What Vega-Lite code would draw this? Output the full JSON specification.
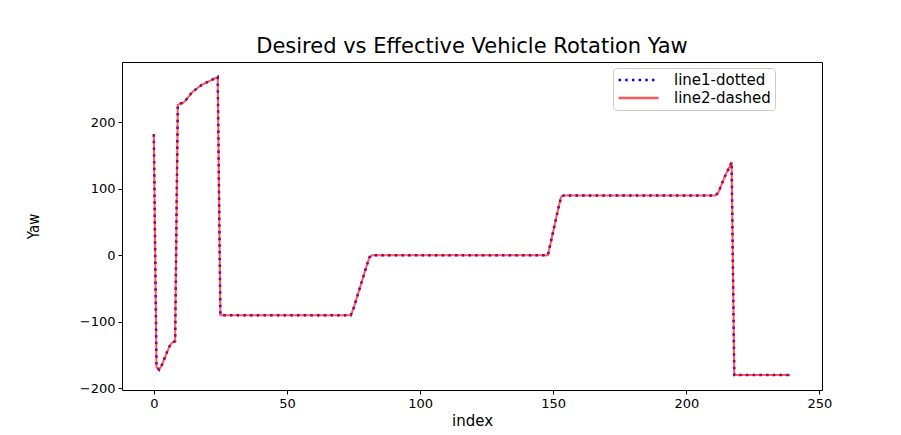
{
  "$schema": "https://vega.github.io/schema/vega-lite/v6.json",
  "width": 700,
  "height": 328,
  "autosize": {"type": "none"},
  "padding": {"left": 122, "top": 62, "right": 79, "bottom": 45},
  "background": "white",
  "title": {"text": "Desired vs Effective Vehicle Rotation Yaw", "font": "DejaVu Sans", "fontSize": 21, "fontWeight": "normal", "color": "black", "offset": 5, "anchor": "middle"},
  "config": {
    "view": {"stroke": "black", "strokeWidth": 1},
    "axis": {"domain": false, "grid": false, "tickColor": "black", "tickSize": 4, "tickWidth": 1, "labelFont": "DejaVu Sans", "labelFontSize": 13, "labelColor": "black", "labelPadding": 3, "titleFont": "DejaVu Sans", "titleFontSize": 13, "titleColor": "black", "titleFontWeight": "normal"}
  },
  "data": {"values": [
    {"index":0,"desired":182,"effective":182},
    {"index":1,"desired":-168,"effective":-168},
    {"index":2,"desired":-172,"effective":-172},
    {"index":3,"desired":-165,"effective":-165},
    {"index":4,"desired":-155,"effective":-155},
    {"index":5,"desired":-145,"effective":-145},
    {"index":6,"desired":-136,"effective":-136},
    {"index":7,"desired":-131,"effective":-131},
    {"index":8,"desired":-129,"effective":-129},
    {"index":9,"desired":226,"effective":226},
    {"index":10,"desired":228,"effective":228},
    {"index":11,"desired":229,"effective":229},
    {"index":12,"desired":233,"effective":233},
    {"index":13,"desired":238,"effective":238},
    {"index":14,"desired":243,"effective":243},
    {"index":15,"desired":247,"effective":247},
    {"index":16,"desired":250,"effective":250},
    {"index":17,"desired":253,"effective":253},
    {"index":18,"desired":256,"effective":256},
    {"index":19,"desired":258,"effective":258},
    {"index":20,"desired":260,"effective":260},
    {"index":21,"desired":262,"effective":262},
    {"index":22,"desired":264,"effective":264},
    {"index":23,"desired":266,"effective":266},
    {"index":24,"desired":268,"effective":268},
    {"index":25,"desired":-90,"effective":-90},
    {"index":26,"desired":-90,"effective":-90},
    {"index":27,"desired":-90,"effective":-90},
    {"index":28,"desired":-90,"effective":-90},
    {"index":29,"desired":-90,"effective":-90},
    {"index":30,"desired":-90,"effective":-90},
    {"index":31,"desired":-90,"effective":-90},
    {"index":32,"desired":-90,"effective":-90},
    {"index":33,"desired":-90,"effective":-90},
    {"index":34,"desired":-90,"effective":-90},
    {"index":35,"desired":-90,"effective":-90},
    {"index":36,"desired":-90,"effective":-90},
    {"index":37,"desired":-90,"effective":-90},
    {"index":38,"desired":-90,"effective":-90},
    {"index":39,"desired":-90,"effective":-90},
    {"index":40,"desired":-90,"effective":-90},
    {"index":41,"desired":-90,"effective":-90},
    {"index":42,"desired":-90,"effective":-90},
    {"index":43,"desired":-90,"effective":-90},
    {"index":44,"desired":-90,"effective":-90},
    {"index":45,"desired":-90,"effective":-90},
    {"index":46,"desired":-90,"effective":-90},
    {"index":47,"desired":-90,"effective":-90},
    {"index":48,"desired":-90,"effective":-90},
    {"index":49,"desired":-90,"effective":-90},
    {"index":50,"desired":-90,"effective":-90},
    {"index":51,"desired":-90,"effective":-90},
    {"index":52,"desired":-90,"effective":-90},
    {"index":53,"desired":-90,"effective":-90},
    {"index":54,"desired":-90,"effective":-90},
    {"index":55,"desired":-90,"effective":-90},
    {"index":56,"desired":-90,"effective":-90},
    {"index":57,"desired":-90,"effective":-90},
    {"index":58,"desired":-90,"effective":-90},
    {"index":59,"desired":-90,"effective":-90},
    {"index":60,"desired":-90,"effective":-90},
    {"index":61,"desired":-90,"effective":-90},
    {"index":62,"desired":-90,"effective":-90},
    {"index":63,"desired":-90,"effective":-90},
    {"index":64,"desired":-90,"effective":-90},
    {"index":65,"desired":-90,"effective":-90},
    {"index":66,"desired":-90,"effective":-90},
    {"index":67,"desired":-90,"effective":-90},
    {"index":68,"desired":-90,"effective":-90},
    {"index":69,"desired":-90,"effective":-90},
    {"index":70,"desired":-90,"effective":-90},
    {"index":71,"desired":-90,"effective":-90},
    {"index":72,"desired":-90,"effective":-90},
    {"index":73,"desired":-90,"effective":-90},
    {"index":74,"desired":-90,"effective":-90},
    {"index":75,"desired":-80,"effective":-80},
    {"index":76,"desired":-67,"effective":-67},
    {"index":77,"desired":-54,"effective":-54},
    {"index":78,"desired":-41,"effective":-41},
    {"index":79,"desired":-28,"effective":-28},
    {"index":80,"desired":-15,"effective":-15},
    {"index":81,"desired":-3,"effective":-3},
    {"index":82,"desired":0,"effective":0},
    {"index":83,"desired":0,"effective":0},
    {"index":84,"desired":0,"effective":0},
    {"index":85,"desired":0,"effective":0},
    {"index":86,"desired":0,"effective":0},
    {"index":87,"desired":0,"effective":0},
    {"index":88,"desired":0,"effective":0},
    {"index":89,"desired":0,"effective":0},
    {"index":90,"desired":0,"effective":0},
    {"index":91,"desired":0,"effective":0},
    {"index":92,"desired":0,"effective":0},
    {"index":93,"desired":0,"effective":0},
    {"index":94,"desired":0,"effective":0},
    {"index":95,"desired":0,"effective":0},
    {"index":96,"desired":0,"effective":0},
    {"index":97,"desired":0,"effective":0},
    {"index":98,"desired":0,"effective":0},
    {"index":99,"desired":0,"effective":0},
    {"index":100,"desired":0,"effective":0},
    {"index":101,"desired":0,"effective":0},
    {"index":102,"desired":0,"effective":0},
    {"index":103,"desired":0,"effective":0},
    {"index":104,"desired":0,"effective":0},
    {"index":105,"desired":0,"effective":0},
    {"index":106,"desired":0,"effective":0},
    {"index":107,"desired":0,"effective":0},
    {"index":108,"desired":0,"effective":0},
    {"index":109,"desired":0,"effective":0},
    {"index":110,"desired":0,"effective":0},
    {"index":111,"desired":0,"effective":0},
    {"index":112,"desired":0,"effective":0},
    {"index":113,"desired":0,"effective":0},
    {"index":114,"desired":0,"effective":0},
    {"index":115,"desired":0,"effective":0},
    {"index":116,"desired":0,"effective":0},
    {"index":117,"desired":0,"effective":0},
    {"index":118,"desired":0,"effective":0},
    {"index":119,"desired":0,"effective":0},
    {"index":120,"desired":0,"effective":0},
    {"index":121,"desired":0,"effective":0},
    {"index":122,"desired":0,"effective":0},
    {"index":123,"desired":0,"effective":0},
    {"index":124,"desired":0,"effective":0},
    {"index":125,"desired":0,"effective":0},
    {"index":126,"desired":0,"effective":0},
    {"index":127,"desired":0,"effective":0},
    {"index":128,"desired":0,"effective":0},
    {"index":129,"desired":0,"effective":0},
    {"index":130,"desired":0,"effective":0},
    {"index":131,"desired":0,"effective":0},
    {"index":132,"desired":0,"effective":0},
    {"index":133,"desired":0,"effective":0},
    {"index":134,"desired":0,"effective":0},
    {"index":135,"desired":0,"effective":0},
    {"index":136,"desired":0,"effective":0},
    {"index":137,"desired":0,"effective":0},
    {"index":138,"desired":0,"effective":0},
    {"index":139,"desired":0,"effective":0},
    {"index":140,"desired":0,"effective":0},
    {"index":141,"desired":0,"effective":0},
    {"index":142,"desired":0,"effective":0},
    {"index":143,"desired":0,"effective":0},
    {"index":144,"desired":0,"effective":0},
    {"index":145,"desired":0,"effective":0},
    {"index":146,"desired":0,"effective":0},
    {"index":147,"desired":0,"effective":0},
    {"index":148,"desired":0,"effective":0},
    {"index":149,"desired":18,"effective":18},
    {"index":150,"desired":36,"effective":36},
    {"index":151,"desired":54,"effective":54},
    {"index":152,"desired":72,"effective":72},
    {"index":153,"desired":88,"effective":88},
    {"index":154,"desired":90,"effective":90},
    {"index":155,"desired":90,"effective":90},
    {"index":156,"desired":90,"effective":90},
    {"index":157,"desired":90,"effective":90},
    {"index":158,"desired":90,"effective":90},
    {"index":159,"desired":90,"effective":90},
    {"index":160,"desired":90,"effective":90},
    {"index":161,"desired":90,"effective":90},
    {"index":162,"desired":90,"effective":90},
    {"index":163,"desired":90,"effective":90},
    {"index":164,"desired":90,"effective":90},
    {"index":165,"desired":90,"effective":90},
    {"index":166,"desired":90,"effective":90},
    {"index":167,"desired":90,"effective":90},
    {"index":168,"desired":90,"effective":90},
    {"index":169,"desired":90,"effective":90},
    {"index":170,"desired":90,"effective":90},
    {"index":171,"desired":90,"effective":90},
    {"index":172,"desired":90,"effective":90},
    {"index":173,"desired":90,"effective":90},
    {"index":174,"desired":90,"effective":90},
    {"index":175,"desired":90,"effective":90},
    {"index":176,"desired":90,"effective":90},
    {"index":177,"desired":90,"effective":90},
    {"index":178,"desired":90,"effective":90},
    {"index":179,"desired":90,"effective":90},
    {"index":180,"desired":90,"effective":90},
    {"index":181,"desired":90,"effective":90},
    {"index":182,"desired":90,"effective":90},
    {"index":183,"desired":90,"effective":90},
    {"index":184,"desired":90,"effective":90},
    {"index":185,"desired":90,"effective":90},
    {"index":186,"desired":90,"effective":90},
    {"index":187,"desired":90,"effective":90},
    {"index":188,"desired":90,"effective":90},
    {"index":189,"desired":90,"effective":90},
    {"index":190,"desired":90,"effective":90},
    {"index":191,"desired":90,"effective":90},
    {"index":192,"desired":90,"effective":90},
    {"index":193,"desired":90,"effective":90},
    {"index":194,"desired":90,"effective":90},
    {"index":195,"desired":90,"effective":90},
    {"index":196,"desired":90,"effective":90},
    {"index":197,"desired":90,"effective":90},
    {"index":198,"desired":90,"effective":90},
    {"index":199,"desired":90,"effective":90},
    {"index":200,"desired":90,"effective":90},
    {"index":201,"desired":90,"effective":90},
    {"index":202,"desired":90,"effective":90},
    {"index":203,"desired":90,"effective":90},
    {"index":204,"desired":90,"effective":90},
    {"index":205,"desired":90,"effective":90},
    {"index":206,"desired":90,"effective":90},
    {"index":207,"desired":90,"effective":90},
    {"index":208,"desired":90,"effective":90},
    {"index":209,"desired":90,"effective":90},
    {"index":210,"desired":90,"effective":90},
    {"index":211,"desired":90,"effective":90},
    {"index":212,"desired":94,"effective":94},
    {"index":213,"desired":104,"effective":104},
    {"index":214,"desired":114,"effective":114},
    {"index":215,"desired":123,"effective":123},
    {"index":216,"desired":131,"effective":131},
    {"index":217,"desired":140,"effective":140},
    {"index":218,"desired":-180,"effective":-180},
    {"index":219,"desired":-180,"effective":-180},
    {"index":220,"desired":-180,"effective":-180},
    {"index":221,"desired":-180,"effective":-180},
    {"index":222,"desired":-180,"effective":-180},
    {"index":223,"desired":-180,"effective":-180},
    {"index":224,"desired":-180,"effective":-180},
    {"index":225,"desired":-180,"effective":-180},
    {"index":226,"desired":-180,"effective":-180},
    {"index":227,"desired":-180,"effective":-180},
    {"index":228,"desired":-180,"effective":-180},
    {"index":229,"desired":-180,"effective":-180},
    {"index":230,"desired":-180,"effective":-180},
    {"index":231,"desired":-180,"effective":-180},
    {"index":232,"desired":-180,"effective":-180},
    {"index":233,"desired":-180,"effective":-180},
    {"index":234,"desired":-180,"effective":-180},
    {"index":235,"desired":-180,"effective":-180},
    {"index":236,"desired":-180,"effective":-180},
    {"index":237,"desired":-180,"effective":-180},
    {"index":238,"desired":-180,"effective":-180},
    {"index":239,"desired":-180,"effective":-180}
  ]},
  "encoding": {
    "x": {"field": "index", "type": "quantitative", "scale": {"domain": [-11.95, 250.95], "nice": false, "zero": false}, "axis": {"values": [0, 50, 100, 150, 200, 250], "title": "index", "titleFontSize": 15, "titlePadding": 3}}
  },
  "layer": [
    {
      "mark": {"type": "line", "strokeWidth": 2.5, "strokeCap": "butt"},
      "encoding": {
        "y": {"field": "desired", "type": "quantitative", "scale": {"domain": [-202.4, 290.4], "nice": false, "zero": false}, "axis": {"values": [-200, -100, 0, 100, 200], "title": "Yaw", "titleFont": "DejaVu Sans Condensed", "titleFontSize": 15, "titlePadding": 38}},
        "color": {"datum": "line1-dotted", "type": "nominal", "title": null, "scale": {"domain": ["line1-dotted", "line2-dashed"], "range": ["#0000ff", "#ff0000"]}, "legend": {"title": null, "orient": "none", "legendX": 491, "legendY": 6, "symbolType": "stroke", "symbolSize": 1600, "clipHeight": 16, "symbolStrokeWidth": 2.5, "labelFont": "DejaVu Sans", "labelFontSize": 15, "labelColor": "black", "strokeColor": "#cccccc", "fillColor": "white", "padding": 4, "cornerRadius": 3, "rowPadding": 2, "labelOffset": 14}},
        "strokeDash": {"datum": "line1-dotted", "type": "nominal", "title": null, "scale": {"domain": ["line1-dotted", "line2-dashed"], "range": [[2.5, 4.2], [1, 0]]}},
        "opacity": {"datum": "line1-dotted", "type": "nominal", "title": null, "scale": {"domain": ["line1-dotted", "line2-dashed"], "range": [1, 0.65]}}
      }
    },
    {
      "mark": {"type": "line", "strokeWidth": 2, "strokeCap": "butt"},
      "encoding": {
        "y": {"field": "effective", "type": "quantitative"},
        "color": {"datum": "line2-dashed", "type": "nominal", "title": null},
        "strokeDash": {"datum": "line2-dashed", "type": "nominal", "title": null},
        "opacity": {"datum": "line2-dashed", "type": "nominal", "title": null}
      }
    }
  ]
}
